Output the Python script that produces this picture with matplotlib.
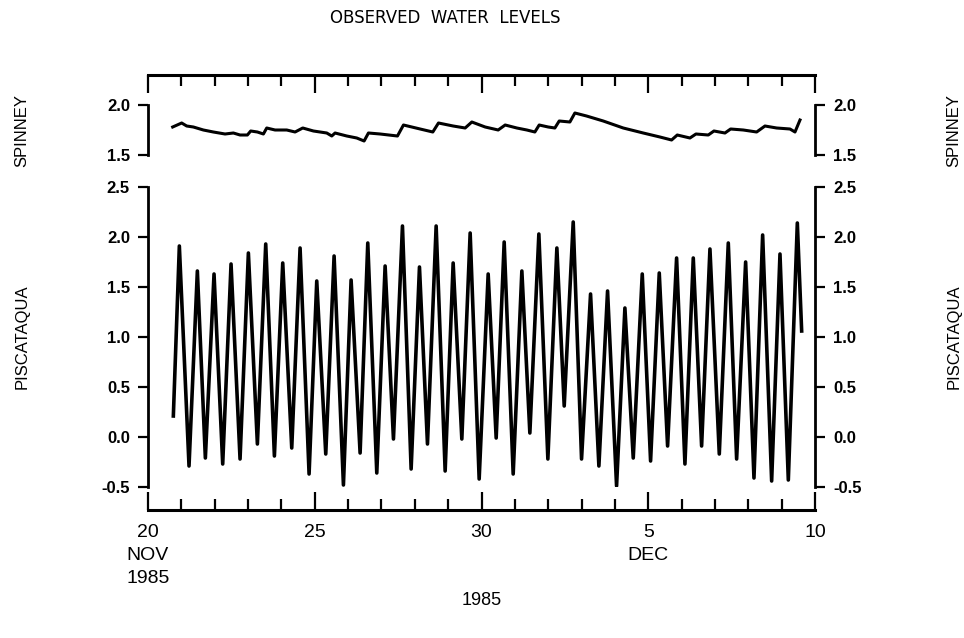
import matplotlib
matplotlib.use("Agg")
import matplotlib.pyplot as plt
from matplotlib.ticker import MultipleLocator, FixedLocator

# time = days after 00:00 20 Nov 1985
# Piscataqua: successive high/low water levels
pis_days = [0.76, 0.94, 1.23, 1.48, 1.72, 1.98, 2.24, 2.49, 2.76, 3.01,
            3.28, 3.53, 3.79, 4.04, 4.31, 4.56, 4.83, 5.06, 5.33, 5.58,
            5.86, 6.09, 6.36, 6.59, 6.86, 7.11, 7.36, 7.63, 7.89, 8.14,
            8.38, 8.64, 8.91, 9.15, 9.41, 9.66, 9.93, 10.20, 10.44, 10.68,
            10.95, 11.21, 11.45, 11.72, 11.99, 12.26, 12.48, 12.75, 13.00, 13.27,
            13.52, 13.78, 14.05, 14.30, 14.55, 14.82, 15.07, 15.33, 15.58, 15.85,
            16.10, 16.35, 16.60, 16.85, 17.13, 17.40, 17.65, 17.92, 18.17, 18.43,
            18.70, 18.95, 19.20, 19.47, 19.60]
pis_level = [0.21, 1.91, -0.29, 1.66, -0.21, 1.63, -0.27, 1.73, -0.22, 1.84,
             -0.07, 1.93, -0.19, 1.74, -0.11, 1.89, -0.37, 1.56, -0.17, 1.81,
             -0.48, 1.57, -0.16, 1.94, -0.36, 1.71, -0.02, 2.11, -0.32, 1.70,
             -0.07, 2.11, -0.34, 1.74, -0.02, 2.04, -0.42, 1.63, -0.01, 1.95,
             -0.37, 1.66, 0.04, 2.03, -0.22, 1.89, 0.31, 2.15, -0.22, 1.43,
             -0.29, 1.46, -0.49, 1.29, -0.21, 1.63, -0.24, 1.64, -0.09, 1.79,
             -0.27, 1.79, -0.09, 1.88, -0.17, 1.94, -0.22, 1.75, -0.41, 2.02,
             -0.44, 1.83, -0.43, 2.14, 1.06]

spin_days = [0.74, 1.01, 1.16, 1.36, 1.66, 1.96, 2.31, 2.56, 2.76, 2.98,
             3.08, 3.28, 3.46, 3.56, 3.81, 4.16, 4.41, 4.64, 4.96, 5.36,
             5.51, 5.61, 5.96, 6.26, 6.48, 6.61, 6.96, 7.48, 7.66, 8.16,
             8.54, 8.71, 9.15, 9.51, 9.71, 10.11, 10.50, 10.71, 11.06, 11.36,
             11.60, 11.73, 12.00, 12.20, 12.33, 12.65, 12.80, 13.15, 13.65, 14.25,
             14.85, 15.35, 15.70, 15.87, 16.25, 16.43, 16.80, 16.97, 17.30, 17.47,
             17.85, 18.25, 18.50, 18.85, 19.25, 19.40, 19.55]
spin_level = [1.78, 1.82, 1.79, 1.78, 1.75, 1.73, 1.71, 1.72, 1.70, 1.70,
              1.74, 1.73, 1.71, 1.77, 1.75, 1.75, 1.73, 1.77, 1.74, 1.72,
              1.69, 1.72, 1.69, 1.67, 1.64, 1.72, 1.71, 1.69, 1.80, 1.76,
              1.73, 1.82, 1.79, 1.77, 1.83, 1.78, 1.75, 1.80, 1.77, 1.75,
              1.73, 1.80, 1.78, 1.77, 1.84, 1.83, 1.92, 1.89, 1.84, 1.77,
              1.72, 1.68, 1.65, 1.70, 1.67, 1.71, 1.70, 1.74, 1.72, 1.76,
              1.75, 1.73, 1.79, 1.77, 1.76, 1.73, 1.85]

x_major = [0, 5, 10, 15, 20]
x_labels = ["20\nNOV\n1985", "25", "30", "5\nDEC", "10"]
spin_ticks = [1.5, 2.0]
pis_ticks = [-0.5, 0.0, 0.5, 1.0, 1.5, 2.0, 2.5]

plt.rcParams["font.family"] = ["Liberation Sans", "DejaVu Sans"]

fig = plt.figure(figsize=(9.64, 6.38), dpi=100)
L, W = 148 / 964, (815 - 148) / 964


def fy(px):
    return 1 - px / 638


# outer frame: top and bottom time axes
fr = fig.add_axes([L, fy(510), W, fy(75) - fy(510)])
fr.patch.set_visible(False)
for s in ("left", "right"):
    fr.spines[s].set_visible(False)
for s in ("top", "bottom"):
    fr.spines[s].set_linewidth(2.2)
fr.set_xlim(0, 20)
fr.set_yticks([])
fr.xaxis.set_major_locator(FixedLocator(x_major))
fr.xaxis.set_minor_locator(MultipleLocator(1))
fr.set_xticklabels(x_labels, fontsize=14, linespacing=1.45, va="top")
fr.tick_params(axis="x", which="both", direction="in", top=True, bottom=True,
               width=1.6, pad=10)
fr.tick_params(axis="x", which="major", length=13)
fr.tick_params(axis="x", which="minor", length=8)
fr.set_xlabel("1985", fontsize=13, labelpad=4)


def panel(bottom_px, top_px, lo, hi, ticks):
    ax = fig.add_axes([L, fy(bottom_px), W, fy(top_px) - fy(bottom_px)])
    ax.patch.set_visible(False)
    ax.spines["top"].set_visible(False)
    ax.spines["bottom"].set_visible(False)
    for s in ("left", "right"):
        ax.spines[s].set_linewidth(2.0)
    ax.set_xlim(0, 20)
    ax.set_ylim(lo, hi)
    ax.set_xticks([])
    ax.set_yticks(ticks)
    ax.set_yticklabels([f"{t:.1f}" for t in ticks], fontsize=12,
                       fontweight="bold")
    ax.tick_params(axis="y", direction="out", left=True, right=True,
                   labelleft=True, labelright=True, length=7, width=1.6, pad=6)
    return ax


ax_sp = panel(155, 105, 1.5, 2.0, spin_ticks)
ax_sp.plot(spin_days, spin_level, color="black", lw=2.2,
           solid_joinstyle="round")

ax_pi = panel(487, 187, -0.5, 2.5, pis_ticks)
ax_pi.plot(pis_days, pis_level, color="black", lw=2.6,
           solid_joinstyle="round")

fig.text(445 / 964, fy(18), "OBSERVED  WATER  LEVELS", ha="center",
         va="center", fontsize=12, family="DejaVu Sans")

for xpx in (22, 954):
    fig.text(xpx / 964, fy(130), "SPINNEY", rotation=90, ha="center",
             va="center", fontsize=12)
    fig.text(xpx / 964, fy(337), "PISCATAQUA", rotation=90, ha="center",
             va="center", fontsize=12)

fig.savefig("out.png", dpi=100, facecolor="white")
